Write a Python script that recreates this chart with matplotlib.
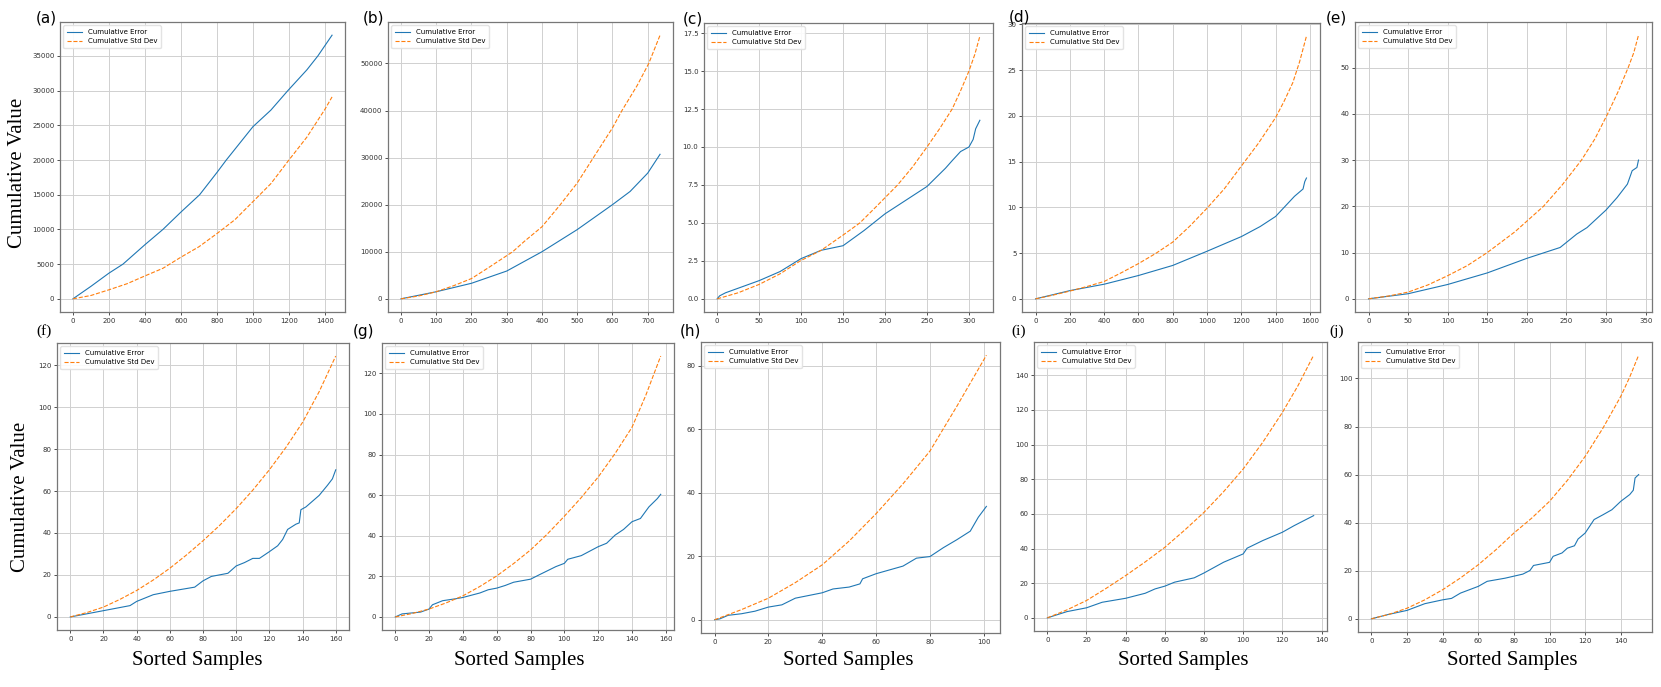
import numpy as np
import matplotlib
matplotlib.use("Agg")
import matplotlib.pyplot as plt
from matplotlib.ticker import MultipleLocator

# values, one pair of series per panel
a_err_x = [0, 100, 200, 278, 400, 500, 600, 704, 800, 852, 1000, 1100, 1194, 1300, 1361, 1440]
a_err_y = [0, 1800, 3700, 5000, 7800, 10000, 12500, 15000, 18200, 20000, 24800, 27200, 30000, 33000, 35000, 38000]
a_std_x = [0, 100, 200, 300, 400, 500, 600, 700, 800, 900, 1000, 1100, 1200, 1300, 1400, 1440]
a_std_y = [0, 480, 1300, 2170, 3300, 4400, 6000, 7500, 9400, 11400, 14000, 16600, 20000, 23300, 27300, 29100]

b_err_x = [0, 100, 200, 300, 400, 500, 600, 650, 700, 735]
b_err_y = [0, 1500, 3300, 5900, 10000, 14700, 20000, 22800, 26700, 30700]
b_std_x = [0, 50, 100, 150, 200, 250, 317, 350, 400, 452, 500, 546, 600, 627, 670, 703, 735]
b_std_y = [0, 600, 1500, 2800, 4300, 6700, 10000, 12200, 15300, 20000, 24600, 30000, 36300, 40000, 45300, 50000, 56000]

c_err_x = [0, 3, 10, 25, 50, 75, 100, 124, 150, 175, 200, 225, 250, 272, 280, 290, 300, 305, 308, 313]
c_err_y = [0, 0.2, 0.4, 0.7, 1.2, 1.8, 2.65, 3.2, 3.5, 4.5, 5.6, 6.5, 7.4, 8.6, 9.1, 9.7, 10.0, 10.5, 11.2, 11.76]
c_std_x = [0, 25, 50, 75, 99, 124, 150, 170, 190, 215, 233, 250, 265, 280, 290, 300, 307, 313]
c_std_y = [0, 0.4, 0.95, 1.65, 2.5, 3.2, 4.2, 5.0, 6.1, 7.5, 8.7, 10.0, 11.2, 12.5, 13.7, 15.0, 16.1, 17.3]

d_err_x = [0, 200, 400, 600, 800, 1000, 1200, 1310, 1400, 1510, 1560, 1570, 1580]
d_err_y = [0, 0.9, 1.6, 2.55, 3.65, 5.2, 6.8, 7.9, 9.0, 11.2, 12.0, 12.8, 13.2]
d_std_x = [0, 100, 200, 300, 400, 500, 600, 700, 800, 900, 1000, 1100, 1200, 1300, 1400, 1450, 1500, 1540, 1580]
d_std_y = [0, 0.4, 0.85, 1.35, 1.9, 2.85, 3.85, 4.95, 6.2, 7.95, 9.9, 12.0, 14.5, 17.0, 19.8, 21.6, 23.6, 25.9, 28.7]

e_err_x = [0, 50, 100, 150, 200, 242, 250, 263, 276, 300, 314, 327, 333, 339, 341]
e_err_y = [0, 1.1, 3.1, 5.6, 8.75, 11.1, 12.2, 14.0, 15.4, 19.2, 21.9, 24.8, 27.7, 28.4, 30.0]
e_std_x = [0, 25, 50, 75, 100, 125, 150, 185, 221, 245, 269, 286, 302, 315, 328, 335, 341]
e_std_y = [0, 0.6, 1.45, 3.0, 5.0, 7.2, 10, 14.5, 20, 24.7, 30, 34.6, 40, 44.7, 50, 53.2, 57]

f_err_x = [0, 20, 36, 40, 50, 60, 75, 80, 85, 95, 100, 105, 110, 114, 120, 125, 128, 131, 136, 138, 139, 142, 150, 155, 158, 160]
f_err_y = [0, 3.0, 5.4, 7.4, 10.6, 12.2, 14.2, 17.2, 19.3, 20.8, 24.3, 25.9, 27.9, 27.9, 31.1, 33.9, 36.9, 41.7, 44.2, 44.8, 51.1, 52.4, 57.9, 62.7, 65.8, 70.1]
f_std_x = [0, 10, 20, 30, 40, 50, 60, 70, 80, 90, 100, 110, 120, 130, 140, 150, 160]
f_std_y = [0, 2.1, 4.7, 8.4, 12.6, 17.6, 23.2, 29.5, 36.3, 43.6, 51.6, 60.4, 70.1, 80.8, 92.7, 107.3, 124.3]

g_err_x = [0, 4, 15, 20, 22, 28, 36, 40, 50, 55, 60, 65, 70, 80, 85, 95, 100, 102, 110, 120, 125, 130, 135, 140, 145, 150, 155, 157]
g_err_y = [0, 1.5, 2.4, 3.9, 6.0, 8.0, 9.0, 9.6, 11.8, 13.4, 14.2, 15.5, 17.1, 18.6, 20.7, 24.8, 26.4, 28.4, 30.2, 34.6, 36.3, 40.3, 43.1, 46.9, 48.5, 54.2, 58.3, 60.4]
g_std_x = [0, 10, 20, 30, 40, 50, 60, 70, 80, 90, 100, 110, 120, 130, 140, 148, 157]
g_std_y = [0, 1.7, 3.9, 6.9, 10.4, 15.0, 20.2, 26.3, 33.0, 40.9, 49.6, 58.8, 68.9, 80.5, 93.4, 108.8, 128.5]

h_err_x = [0, 2, 5, 10, 15, 20, 25, 30, 40, 44, 50, 54, 55, 60, 65, 70, 75, 80, 85, 90, 95, 98, 101]
h_err_y = [0, 0.3, 1.4, 1.9, 2.7, 4.0, 4.7, 6.8, 8.5, 9.7, 10.3, 11.3, 12.9, 14.5, 15.7, 16.9, 19.4, 19.9, 22.7, 25.2, 27.9, 32.3, 35.7]
h_std_x = [0, 10, 20, 30, 40, 50, 60, 70, 80, 90, 101]
h_std_y = [0, 3.2, 6.8, 11.7, 17.3, 24.8, 33.4, 42.8, 53.1, 67.2, 83.3]

i_err_x = [0, 10, 20, 28, 40, 50, 55, 60, 65, 75, 80, 90, 100, 102, 110, 120, 126, 136]
i_err_y = [0, 3.6, 5.8, 9.0, 11.3, 14.2, 16.7, 18.3, 20.6, 23.1, 25.9, 32.1, 36.9, 40.2, 44.6, 49.4, 53.2, 59.0]
i_std_x = [0, 10, 20, 30, 40, 50, 60, 70, 80, 90, 100, 110, 120, 128, 136]
i_std_y = [0, 4.6, 10.0, 17.0, 24.4, 32.3, 40.7, 50.5, 60.9, 72.8, 85.9, 101.3, 118.5, 134.0, 151.6]

j_err_x = [0, 10, 20, 30, 40, 45, 50, 55, 60, 65, 75, 85, 89, 91, 100, 102, 107, 110, 114, 116, 120, 125, 130, 135, 140, 145, 147, 148, 150]
j_err_y = [0, 1.9, 3.5, 6.3, 7.9, 8.5, 10.7, 12.1, 13.5, 15.6, 16.9, 18.6, 20.1, 22.2, 23.5, 26.0, 27.4, 29.4, 30.4, 33.2, 35.7, 41.3, 43.3, 45.4, 48.9, 51.7, 53.5, 58.6, 60.0]
j_std_x = [0, 10, 20, 30, 40, 50, 60, 70, 80, 90, 100, 110, 120, 130, 140, 145, 150]
j_std_y = [0, 1.9, 4.4, 7.9, 12.1, 17.0, 22.5, 28.8, 35.7, 41.9, 48.9, 57.6, 67.6, 79.4, 92.6, 100.6, 109.7]

labels = ["(a)", "(b)", "(c)", "(d)", "(e)", "(f)", "(g)", "(h)", "(i)", "(j)"]
series = [
    (a_err_x, a_err_y, a_std_x, a_std_y),
    (b_err_x, b_err_y, b_std_x, b_std_y),
    (c_err_x, c_err_y, c_std_x, c_std_y),
    (d_err_x, d_err_y, d_std_x, d_std_y),
    (e_err_x, e_err_y, e_std_x, e_std_y),
    (f_err_x, f_err_y, f_std_x, f_std_y),
    (g_err_x, g_err_y, g_std_x, g_std_y),
    (h_err_x, h_err_y, h_std_x, h_std_y),
    (i_err_x, i_err_y, i_std_x, i_std_y),
    (j_err_x, j_err_y, j_std_x, j_std_y),
]
x_steps = [200, 100, 50, 200, 50, 20, 20, 20, 20, 20]
y_steps = [5000, 10000, 2.5, 5, 10, 20, 20, 20, 20, 20]

# axes boxes in pixels: left, top, right, bottom
boxes = [
    (60, 22, 345, 312), (388, 22, 673, 312), (704, 23, 993, 312),
    (1022, 23, 1320, 312), (1355, 22, 1652, 312),
    (57, 343, 349, 630), (382, 343, 674, 630), (701, 342, 1000, 633),
    (1034, 342, 1327, 631), (1358, 342, 1652, 632),
]
label_pos = [(36, 18), (363, 18), (683, 19), (1009, 17), (1326, 18),
             (36, 331), (353, 331), (680, 331), (1011, 331), (1329, 331)]
serif_labels = ["(f)", "(i)", "(j)"]

W, H = 1661, 687
fig = plt.figure(figsize=(W / 100, H / 100), dpi=100)

for k in range(10):
    l, t, r, b = boxes[k]
    ax = fig.add_axes([l / W, 1 - b / H, (r - l) / W, (b - t) / H])
    ex, ey, sx, sy = series[k]
    ax.plot(ex, ey, color="#1f77b4", lw=0.8, label="Cumulative Error")
    ax.plot(sx, sy, color="#ff7f0e", lw=0.8, ls="--", label="Cumulative Std Dev")
    ax.xaxis.set_major_locator(MultipleLocator(x_steps[k]))
    ax.yaxis.set_major_locator(MultipleLocator(y_steps[k]))
    ax.grid(True, color="#d0d0d0", lw=0.7)
    ax.set_axisbelow(True)
    ax.tick_params(labelsize=5, colors="#333333", length=2, width=0.6, pad=2)
    for sp in ax.spines.values():
        sp.set_color("#777777")
        sp.set_linewidth(0.9)
    ax.legend(loc="upper left", fontsize=5, frameon=True, framealpha=0.9,
              edgecolor="#e0e0e0", fancybox=True, borderpad=0.5, handlelength=2.2)
    lx, ly = label_pos[k]
    fam = "Liberation Serif" if labels[k] in serif_labels else "DejaVu Sans"
    fig.text(lx / W, 1 - ly / H, labels[k], fontsize=11, family=fam, va="center", ha="left")

serif = "Liberation Serif"
fig.text(18 / W, 1 - 173 / H, "Cumulative Value", rotation=90, fontsize=15,
         family=serif, ha="center", va="center")
fig.text(21 / W, 1 - 497 / H, "Cumulative Value", rotation=90, fontsize=15,
         family=serif, ha="center", va="center")
for cx in [197, 519, 848, 1183, 1512]:
    fig.text(cx / W, 1 - 660 / H, "Sorted Samples", fontsize=15, family=serif,
             ha="center", va="center")

fig.savefig("out.png", dpi=100)
